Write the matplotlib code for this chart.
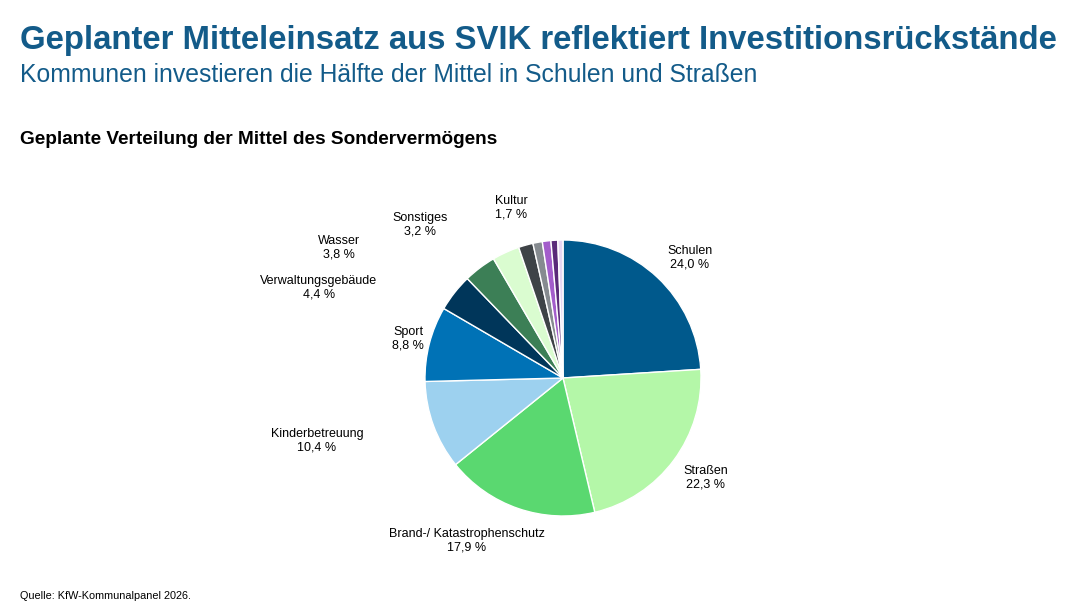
import matplotlib.pyplot as plt

plt.rcParams["font.family"] = ["Liberation Sans", "DejaVu Sans"]

categories = [
    "Schulen", "Straßen", "Brand-/ Katastrophenschutz", "Kinderbetreuung", "Sport",
    "Verwaltungsgebäude", "Wasser", "Sonstiges", "Kultur", "", "", "", "",
]
shares = [24.0, 22.3, 17.9, 10.4, 8.8, 4.4, 3.8, 3.2, 1.7, 1.1, 1.0, 0.8, 0.6]
colors = [
    "#00598C", "#B4F7A8", "#5AD870", "#9DD1EF", "#0072B6", "#00365A", "#3C7F56",
    "#DAFCD0", "#3E4347", "#868B90", "#A35DCB", "#5A2A79", "#E6D6F2",
]
# label centres in pixels of the reference picture
label_px = [
    (690, 258), (706, 478), (467, 541), (317, 441), (408, 339),
    (319, 288), (339, 248), (420, 225), (511, 208),
]

W, H = 1080, 608
CX, CY, R = 563, 378, 138

fig = plt.figure(figsize=(W / 100, H / 100), dpi=100)
fig.patch.set_facecolor("white")

title_col = "#135B89"
fig.text(20 / W, 1 - 40 / H, "Geplanter Mitteleinsatz aus SVIK reflektiert Investitionsrückstände",
         fontsize=23.7, fontweight="bold", color=title_col, va="center", ha="left")
fig.text(20 / W, 1 - 75 / H, "Kommunen investieren die Hälfte der Mittel in Schulen und Straßen",
         fontsize=17.85, color=title_col, va="center", ha="left")
fig.text(20 / W, 1 - 140 / H, "Geplante Verteilung der Mittel des Sondervermögens",
         fontsize=13.7, fontweight="bold", color="black", va="center", ha="left")
fig.text(20 / W, 1 - 596 / H, "Quelle: KfW-Kommunalpanel 2026.",
         fontsize=7.85, color="black", va="center", ha="left")

side = 4 * R
ax = fig.add_axes([(CX - side / 2) / W, (H - CY - side / 2) / H, side / W, side / H])
ax.pie(shares, colors=colors, startangle=90, counterclock=False, radius=1,
       wedgeprops=dict(edgecolor="white", linewidth=1.0))
ax.set_xlim(-2, 2)
ax.set_ylim(-2, 2)
ax.set_aspect("equal")
ax.axis("off")

for name, val, (px, py) in zip(categories, shares, label_px):
    lx = (px - CX) / R
    ly = (CY - py) / R
    ax.text(lx, ly, f"{name}\n{val:.1f} %".replace(".", ","), ha="center", va="center",
            fontsize=9, color="black", linespacing=1.2, clip_on=False)

fig.savefig("out.png", dpi=100)
